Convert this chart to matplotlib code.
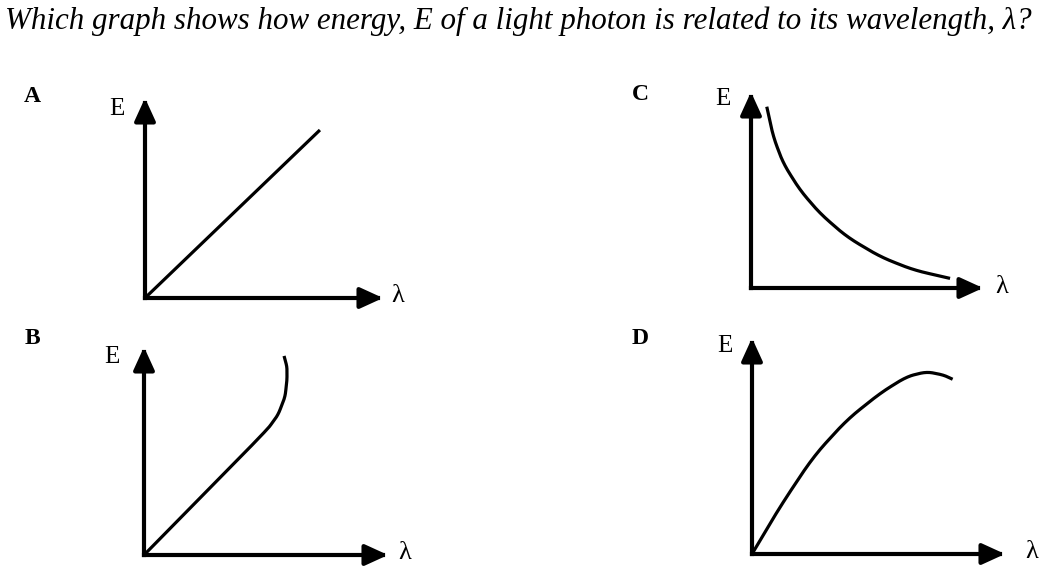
import numpy as np
import matplotlib.pyplot as plt

W, H = 1043, 566

question = "Which graph shows how energy, E of a light photon is related to its wavelength, \u03bb?"
panel_names = ["A", "B", "C", "D"]

# curve shapes, as fractions of the axis lengths (x along lambda, y along E)
a_x = [0.0, 0.735]
a_y = [0.0, 0.84]

b_x = [0.0, 0.504, 0.549, 0.578, 0.586, 0.586, 0.574]
b_y = [0.0, 0.601, 0.673, 0.760, 0.841, 0.904, 0.957]

c_x = [0.068, 0.096, 0.139, 0.211, 0.297, 0.412, 0.556, 0.700, 0.858]
c_y = [0.925, 0.772, 0.636, 0.500, 0.381, 0.262, 0.160, 0.092, 0.049]

d_x = [0.0, 0.111, 0.242, 0.374, 0.506, 0.611, 0.690, 0.756, 0.793]
d_y = [0.0, 0.219, 0.450, 0.620, 0.744, 0.821, 0.844, 0.829, 0.809]

curves = {"A": (a_x, a_y), "B": (b_x, b_y), "C": (c_x, c_y), "D": (d_x, d_y)}

# layout in pixels: origin x, origin y, x-axis length, y-axis length
boxes = {
    "A": (145, 298, 238, 200),
    "B": (144, 555, 244, 208),
    "C": (751, 288, 232, 196),
    "D": (752, 554, 253, 216),
}
letter_pos = {"A": (32, 97), "B": (32, 338), "C": (640, 95), "D": (640, 338)}
e_pos = {"A": (117, 109), "B": (112, 357), "C": (723, 99), "D": (725, 346)}
lam_pos = {"A": (398, 296), "B": (405, 553), "C": (1002, 287), "D": (1032, 552)}

serif = ["Liberation Serif", "DejaVu Serif"]

fig = plt.figure(figsize=(W / 100, H / 100), dpi=100)
fig.patch.set_facecolor("white")


def fx(px):
    return px / W


def fy(py):
    return 1 - py / H


fig.text(fx(5), fy(29), question, family=serif, style="italic",
         fontsize=22.3, ha="left", va="baseline")


def smooth(xs, ys, k=9):
    # light smoothing of the read-off points, just for drawing
    t = np.linspace(0, 1, len(xs))
    tt = np.linspace(0, 1, 200)
    xs_s = np.interp(tt, t, xs)
    ys_s = np.interp(tt, t, ys)
    win = np.ones(2 * k + 1) / (2 * k + 1)
    px = np.concatenate([np.full(k, xs_s[0]), xs_s, np.full(k, xs_s[-1])])
    py = np.concatenate([np.full(k, ys_s[0]), ys_s, np.full(k, ys_s[-1])])
    xs_s = np.convolve(px, win, mode="valid")
    ys_s = np.convolve(py, win, mode="valid")
    xs_s[0], ys_s[0] = xs[0], ys[0]
    xs_s[-1], ys_s[-1] = xs[-1], ys[-1]
    return xs_s, ys_s


for name in panel_names:
    ox, oy, lx, ly = boxes[name]
    ax = fig.add_axes([fx(ox), fy(oy), lx / W, ly / H])
    ax.set_xlim(0, 1)
    ax.set_ylim(0, 1)
    ax.axis("off")

    style = "-|>,head_length=0.7,head_width=0.32"
    for tip in [(1, 0), (0, 1)]:
        ax.annotate("", xy=tip, xytext=(0, 0), xycoords="axes fraction",
                    arrowprops=dict(arrowstyle=style, lw=3, color="black",
                                    mutation_scale=20, shrinkA=0, shrinkB=0,
                                    capstyle="projecting"))

    xs, ys = curves[name]
    if len(xs) > 2:
        xs, ys = smooth(xs, ys)
    ax.plot(xs, ys, color="black", lw=2.3, solid_capstyle="butt", clip_on=False)

    lx_, ly_ = letter_pos[name]
    fig.text(fx(lx_), fy(ly_), name, family=serif, weight="bold",
             fontsize=17, ha="center", va="center")
    ex, ey = e_pos[name]
    fig.text(fx(ex), fy(ey), "E", family=serif, fontsize=18, ha="center", va="center")
    qx, qy = lam_pos[name]
    fig.text(fx(qx), fy(qy), "\u03bb", family=serif, fontsize=19, ha="center", va="center")

fig.savefig("out.png", dpi=100, facecolor="white")
